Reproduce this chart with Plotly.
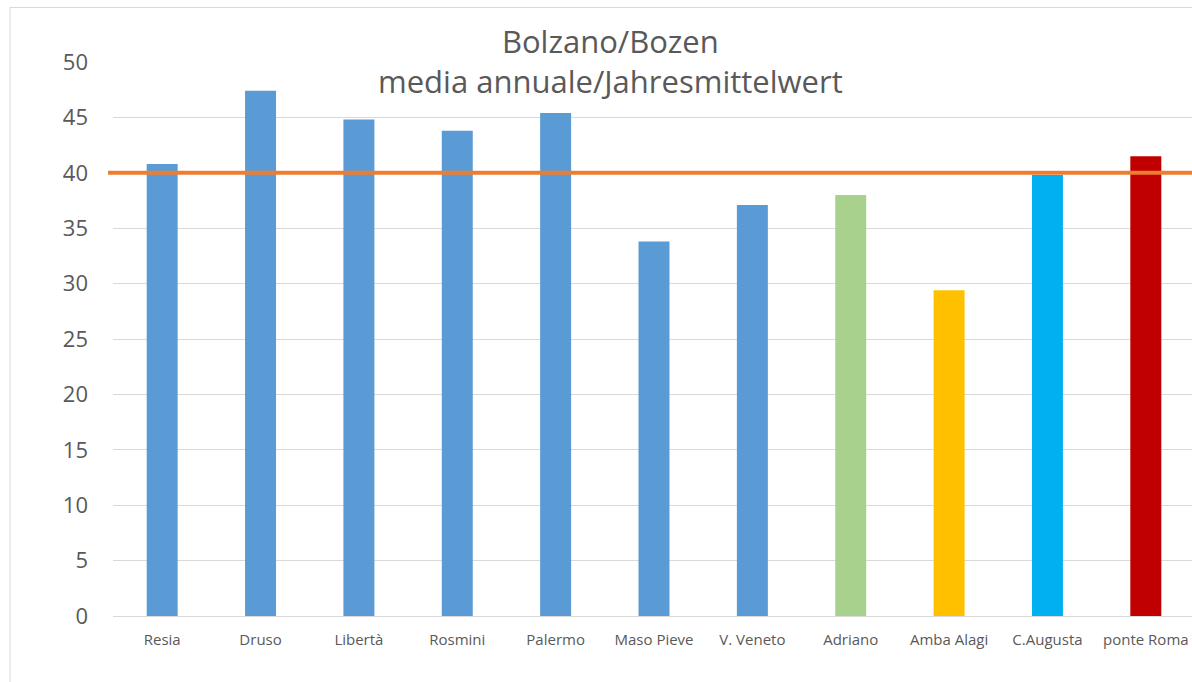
import plotly.graph_objects as go

stations = ["Resia", "Druso", "Libertà", "Rosmini", "Palermo", "Maso Pieve",
            "V. Veneto", "Adriano", "Amba Alagi", "C.Augusta", "ponte Roma"]
values = [40.8, 47.4, 44.8, 43.8, 45.4, 33.8, 37.1, 38.0, 29.4, 39.8, 41.5]
bar_colors = ["#5B9BD5"] * 7 + ["#A9D18E", "#FFC000", "#00B0F0", "#C00000"]
limit_value = 40
y_ticks = [0, 5, 10, 15, 20, 25, 30, 35, 40, 45, 50]
title_lines = ["Bolzano/Bozen", "media annuale/Jahresmittelwert"]

W, H = 1192, 682
L, R, T, B = 113, 0, 62, 66
pw, ph = W - L - R, H - T - B

fig = go.Figure()
fig.add_trace(go.Bar(
    x=stations, y=values,
    marker=dict(color=bar_colors, line=dict(width=0)),
    width=0.315, hoverinfo="x+y",
))

fig.add_shape(type="line", xref="paper", yref="y",
              x0=-5 / pw, x1=1.0, y0=limit_value, y1=limit_value,
              line=dict(color="#ED7D31", width=4), layer="above")

# outer chart border
fig.add_shape(type="rect", xref="paper", yref="paper",
              x0=(10 - L) / pw, x1=1.3, y0=-0.3, y1=(ph + T - 7.5) / ph,
              line=dict(color="#D9D9D9", width=1), fillcolor="rgba(0,0,0,0)", layer="below")

fig.add_annotation(
    text="<br>".join(title_lines), xref="paper", yref="paper",
    x=(610 - L) / pw, y=(ph + T - 61) / ph, xanchor="center", yanchor="middle",
    showarrow=False, align="center",
    font=dict(family="Open Sans", size=31, color="#595959"),
    bgcolor="white", borderpad=4,
)

fig.update_layout(
    width=W, height=H,
    margin=dict(l=L, r=R, t=T, b=B, pad=0),
    plot_bgcolor="white", paper_bgcolor="white",
    showlegend=False, bargap=0.685,
    xaxis=dict(range=[-0.5, 10.5 - 3 / 98.4], showgrid=False, showline=False,
               ticks="", tickfont=dict(family="Open Sans", size=15, color="#595959"),
               ticklabelstandoff=13, fixedrange=True),
    yaxis=dict(range=[0, 50], tickvals=y_ticks, showgrid=True, gridcolor="#D9D9D9",
               gridwidth=1, zeroline=True, zerolinecolor="#D9D9D9", zerolinewidth=1,
               showline=False, ticks="",
               tickfont=dict(family="Open Sans", size=22, color="#595959"),
               ticklabelstandoff=24, fixedrange=True),
)

fig.write_html(
    "out.html",
    config={"displayModeBar": False},
    post_script="document.body.style.margin='0';document.body.style.overflow='hidden';",
)
